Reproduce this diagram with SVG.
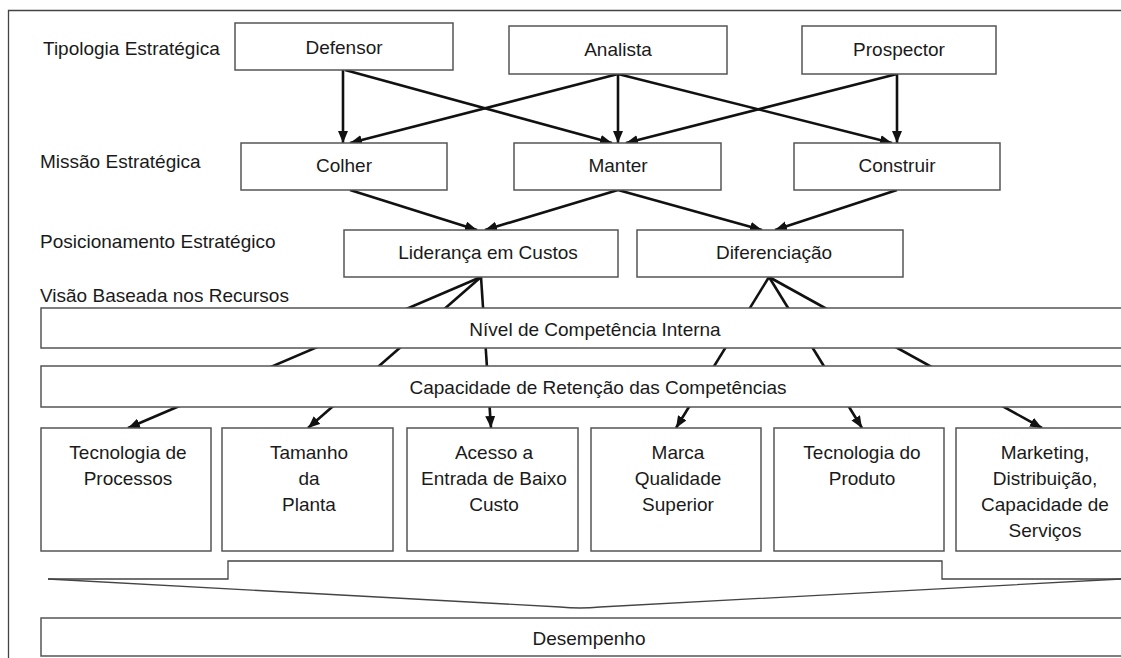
<svg xmlns="http://www.w3.org/2000/svg" width="1121" height="658" viewBox="0 0 1121 658">
<style>
  .box { fill: #fff; stroke: #555; stroke-width: 1.5; }
  .t { font-family: "Liberation Sans", Arial, sans-serif; font-size: 19px; fill: #1a1a1a; }
  .c { text-anchor: middle; }
  .con { stroke: #111; stroke-width: 2.6; fill: none; }
  .arr { marker-end: url(#ah); }
  .thin { stroke: #444; stroke-width: 1.3; fill: none; }
</style>
<defs>
  <marker id="ah" markerUnits="userSpaceOnUse" markerWidth="14" markerHeight="12" refX="12" refY="5" orient="auto">
    <path d="M0,0 L12,5 L0,10 z" fill="#111"/>
  </marker>
</defs>
<rect x="0" y="0" width="1121" height="658" fill="#fff"/>
<g id="frame">
  <path class="thin" d="M8.5,658 L8.5,10.5 L1121,10.5"/>
</g>
<g id="connectors">
  <line class="con arr" x1="343" y1="70" x2="343" y2="143"/>
  <line class="con arr" x1="345" y1="70" x2="612" y2="143"/>
  <line class="con arr" x1="618" y1="74" x2="350" y2="143"/>
  <line class="con arr" x1="618" y1="74" x2="618" y2="143"/>
  <line class="con arr" x1="618" y1="74" x2="892" y2="143"/>
  <line class="con arr" x1="897" y1="74" x2="626" y2="143"/>
  <line class="con arr" x1="897" y1="74" x2="897" y2="143"/>
  <line class="con arr" x1="350" y1="190" x2="477" y2="230"/>
  <line class="con arr" x1="618" y1="190" x2="485" y2="230"/>
  <line class="con arr" x1="618" y1="190" x2="762" y2="230"/>
  <line class="con arr" x1="897" y1="190" x2="775" y2="230"/>
  <line class="con arr" x1="481" y1="277" x2="128" y2="428"/>
  <line class="con arr" x1="481" y1="277" x2="308" y2="428"/>
  <line class="con arr" x1="481" y1="277" x2="491" y2="428"/>
  <line class="con arr" x1="769" y1="277" x2="676" y2="428"/>
  <line class="con arr" x1="769" y1="277" x2="862" y2="428"/>
  <line class="con arr" x1="769" y1="277" x2="1042" y2="428"/>
</g>
<g id="label-tipologia"><text class="t" x="43" y="55">Tipologia Estratégica</text></g>
<g id="label-missao"><text class="t" x="40" y="168">Missão Estratégica</text></g>
<g id="label-posicionamento"><text class="t" x="40" y="248">Posicionamento Estratégico</text></g>
<g id="label-visao"><text class="t" x="40" y="302">Visão Baseada nos Recursos</text></g>
<g id="defensor"><rect class="box" x="235" y="23" width="218" height="47"/><text class="t c" x="344" y="54">Defensor</text></g>
<g id="analista"><rect class="box" x="509" y="26" width="218" height="48"/><text class="t c" x="618" y="56">Analista</text></g>
<g id="prospector"><rect class="box" x="802" y="26" width="194" height="48"/><text class="t c" x="899" y="56">Prospector</text></g>
<g id="colher"><rect class="box" x="241" y="143" width="206" height="47"/><text class="t c" x="344" y="172">Colher</text></g>
<g id="manter"><rect class="box" x="514" y="143" width="207" height="47"/><text class="t c" x="618" y="172">Manter</text></g>
<g id="construir"><rect class="box" x="794" y="143" width="206" height="47"/><text class="t c" x="897" y="172">Construir</text></g>
<g id="lideranca"><rect class="box" x="344" y="230" width="274" height="47"/><text class="t c" x="488" y="259">Liderança em Custos</text></g>
<g id="diferenciacao"><rect class="box" x="637" y="230" width="266" height="47"/><text class="t c" x="774" y="259">Diferenciação</text></g>
<g id="nivel"><rect class="box" x="41" y="308" width="1090" height="40"/><text class="t c" x="595" y="336">Nível de Competência Interna</text></g>
<g id="capacidade"><rect class="box" x="41" y="366" width="1090" height="41"/><text class="t c" x="598" y="394">Capacidade de Retenção das Competências</text></g>
<g id="tec-processos"><rect class="box" x="41" y="428" width="170" height="123"/>
  <text class="t c" x="128" y="459">Tecnologia de</text><text class="t c" x="128" y="485">Processos</text></g>
<g id="tamanho"><rect class="box" x="222" y="428" width="171" height="123"/>
  <text class="t c" x="309" y="459">Tamanho</text><text class="t c" x="309" y="485">da</text><text class="t c" x="309" y="511">Planta</text></g>
<g id="acesso"><rect class="box" x="407" y="428" width="171" height="123"/>
  <text class="t c" x="494" y="459">Acesso a</text><text class="t c" x="494" y="485">Entrada de Baixo</text><text class="t c" x="494" y="511">Custo</text></g>
<g id="marca"><rect class="box" x="591" y="428" width="170" height="123"/>
  <text class="t c" x="678" y="459">Marca</text><text class="t c" x="678" y="485">Qualidade</text><text class="t c" x="678" y="511">Superior</text></g>
<g id="tec-produto"><rect class="box" x="774" y="428" width="170" height="123"/>
  <text class="t c" x="862" y="459">Tecnologia do</text><text class="t c" x="862" y="485">Produto</text></g>
<g id="marketing"><rect class="box" x="956" y="428" width="175" height="123"/>
  <text class="t c" x="1045" y="459">Marketing,</text><text class="t c" x="1045" y="485">Distribuição,</text><text class="t c" x="1045" y="511">Capacidade de</text><text class="t c" x="1045" y="537">Serviços</text></g>
<g id="bracket">
  <path class="thin" d="M48,579 L228,579 L228,561 L942,561 L942,579 L1121,579"/>
  <path class="thin" d="M48,579 L560,607 Q580,609 600,607 L1121,579"/>
</g>
<g id="desempenho"><rect class="box" x="41" y="618" width="1090" height="38"/><text class="t c" x="589" y="645">Desempenho</text></g>
</svg>
